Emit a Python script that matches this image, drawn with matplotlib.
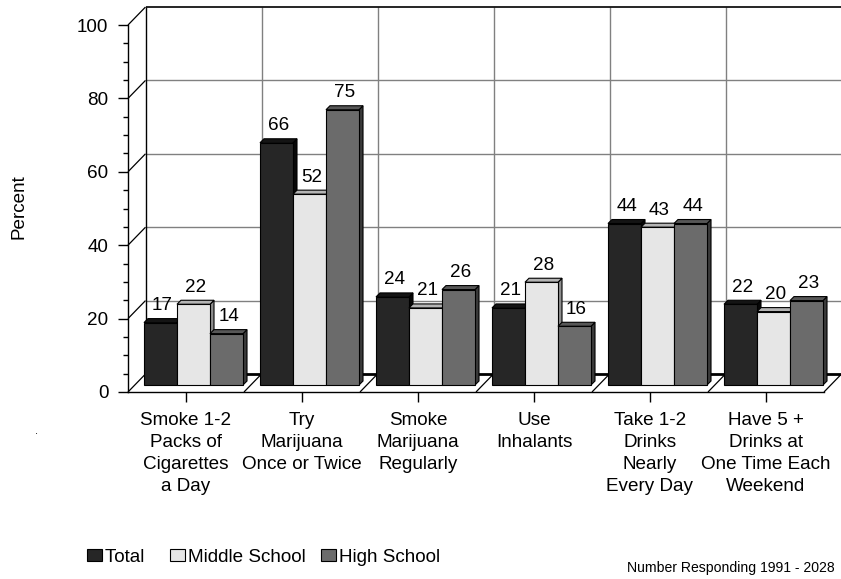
import matplotlib
matplotlib.use("Agg")
import matplotlib.pyplot as plt
from matplotlib.patches import Polygon, Patch
from matplotlib.ticker import MultipleLocator

plt.rcParams['font.family'] = ['Liberation Sans', 'DejaVu Sans']

# ---- data ----
categories = [
    "Smoke 1-2\nPacks of\nCigarettes\na Day",
    "Try\nMarijuana\nOnce or Twice",
    "Smoke\nMarijuana\nRegularly",
    "Use\nInhalants",
    "Take 1-2\nDrinks\nNearly\nEvery Day",
    "Have 5 +\nDrinks at\nOne Time Each\nWeekend",
]
series_names = ["Total", "Middle School", "High School"]
total = [17, 66, 24, 21, 44, 22]
middle = [22, 52, 21, 28, 43, 20]
high = [14, 75, 26, 16, 44, 23]
y_ticks = [0, 20, 40, 60, 80, 100]
footnote = "Number Responding 1991 - 2028"

# ---- styling ----
front_colors = ['#262626', '#e6e6e6', '#6b6b6b']
top_colors = ['#141414', '#b4b4b4', '#575757']
side_colors = ['#080808', '#8e8e8e', '#3a3a3a']
grid_color = '#808080'
fs = 13.6

W, H = 841, 579
fig = plt.figure(figsize=(W / 100, H / 100), dpi=100)

# front plane of the pseudo-3D box, in pixels
L, R, B, T = 128, 824, 392, 25
ax = fig.add_axes([L / W, 1 - B / H, (R - L) / W, (B - T) / H])
ax.set_xlim(-0.5, 5.5)
ax.set_ylim(0, 100)
ax.patch.set_visible(False)

px_x = (R - L) / 6.0
px_y = (B - T) / 100.0


def shift(dx, dy):
    """Convert a pixel offset into data units of the front plane."""
    return dx / px_x, dy / px_y


wall_dx, wall_dy = shift(17.5, 18)   # back wall depth
bar_dx, bar_dy = shift(7.5, 7)       # plane the bars stand on
dep_dx, dep_dy = shift(4, 4)         # bar thickness

x_lo, x_hi = -0.5, 5.5

def line(xs, ys, **kw):
    ax.plot(xs, ys, clip_on=False, solid_capstyle='butt', **kw)

# back wall gridlines
for v in y_ticks[1:-1]:
    line([x_lo + wall_dx, x_hi + wall_dx], [v + wall_dy] * 2,
         color=grid_color, lw=1, zorder=1)
for k in range(1, 6):
    xb = x_lo + k + wall_dx
    line([xb, xb], [wall_dy, 100 + wall_dy], color=grid_color, lw=1, zorder=1)
# back wall frame
line([x_lo + wall_dx, x_hi + wall_dx], [100 + wall_dy] * 2, color='black', lw=1.2, zorder=2)
line([x_lo + wall_dx, x_hi + wall_dx], [wall_dy] * 2, color='black', lw=2, zorder=2)
line([x_lo + wall_dx] * 2, [wall_dy, 100 + wall_dy], color='black', lw=1, zorder=2)
line([x_hi + wall_dx] * 2, [wall_dy, 100 + wall_dy], color='black', lw=1, zorder=2)
# side wall diagonals
for v in y_ticks:
    line([x_lo, x_lo + wall_dx], [v, v + wall_dy], color='black', lw=0.9, zorder=2)
# floor diagonals at category boundaries
for k in range(1, 7):
    xf = x_lo + k
    line([xf, xf + wall_dx], [0, wall_dy], color='black', lw=0.9, zorder=2)

# bars with top and side faces
w = 0.2845
series = [total, middle, high]
z = 5
for i in range(len(categories)):
    for j, vals in enumerate(series):
        v = vals[i]
        xc = i + bar_dx + (j - 1) * w
        x0, x1 = xc - w / 2, xc + w / 2
        y0, y1 = bar_dy, bar_dy + v
        side = Polygon([(x1, y0), (x1 + dep_dx, y0 + dep_dy),
                        (x1 + dep_dx, y1 + dep_dy), (x1, y1)],
                       closed=True, fc=side_colors[j], ec='black', lw=0.8,
                       zorder=z, clip_on=False)
        top = Polygon([(x0, y1), (x1, y1), (x1 + dep_dx, y1 + dep_dy),
                       (x0 + dep_dx, y1 + dep_dy)],
                      closed=True, fc=top_colors[j], ec='black', lw=0.8,
                      zorder=z, clip_on=False)
        ax.add_patch(side)
        ax.add_patch(top)
        ax.bar(xc, v, w, bottom=bar_dy, color=front_colors[j],
               edgecolor='black', lw=0.8, zorder=z + 1, clip_on=False)
        ax.annotate(str(v), (xc, y1), xytext=(1.5, 9),
                    textcoords='offset points', ha='center', va='baseline',
                    fontsize=fs, zorder=z + 2)
        z += 3

# axes
for s in ('top', 'right'):
    ax.spines[s].set_visible(False)
for s in ('left', 'bottom'):
    ax.spines[s].set_linewidth(1)
    ax.spines[s].set_color('black')
ax.set_yticks(y_ticks)
ax.yaxis.set_minor_locator(MultipleLocator(5))
ax.tick_params(axis='y', which='major', length=7.2, width=1, pad=7,
               labelsize=fs)
ax.tick_params(axis='y', which='minor', length=3.6, width=1)
ax.set_xticks(range(len(categories)))
ax.set_xticklabels(categories, fontsize=fs, linespacing=1.38)
ax.tick_params(axis='x', length=7.2, width=1, pad=7)

fig.text(19 / W, 1 - 207 / H, "Percent", rotation=90, ha='center',
         va='center', fontsize=fs)
fig.text(36 / W, 1 - 434 / H, ".", ha='center', va='baseline', fontsize=8)
fig.text(627 / W, 1 - 568 / H, footnote, ha='left', va='center',
         fontsize=10.1)

handles = [Patch(facecolor=c, edgecolor='black', lw=0.8) for c in front_colors]
labels = ["Total  ", "Middle School", "High School"]
fig.legend(handles, labels, loc='center left',
           bbox_to_anchor=(87 / W, 22 / H), ncol=3, frameon=False,
           handlelength=0.8, handleheight=0.58, handletextpad=0.15,
           columnspacing=0.8, fontsize=fs, borderpad=0, borderaxespad=0)

fig.savefig("out.png", dpi=100)
